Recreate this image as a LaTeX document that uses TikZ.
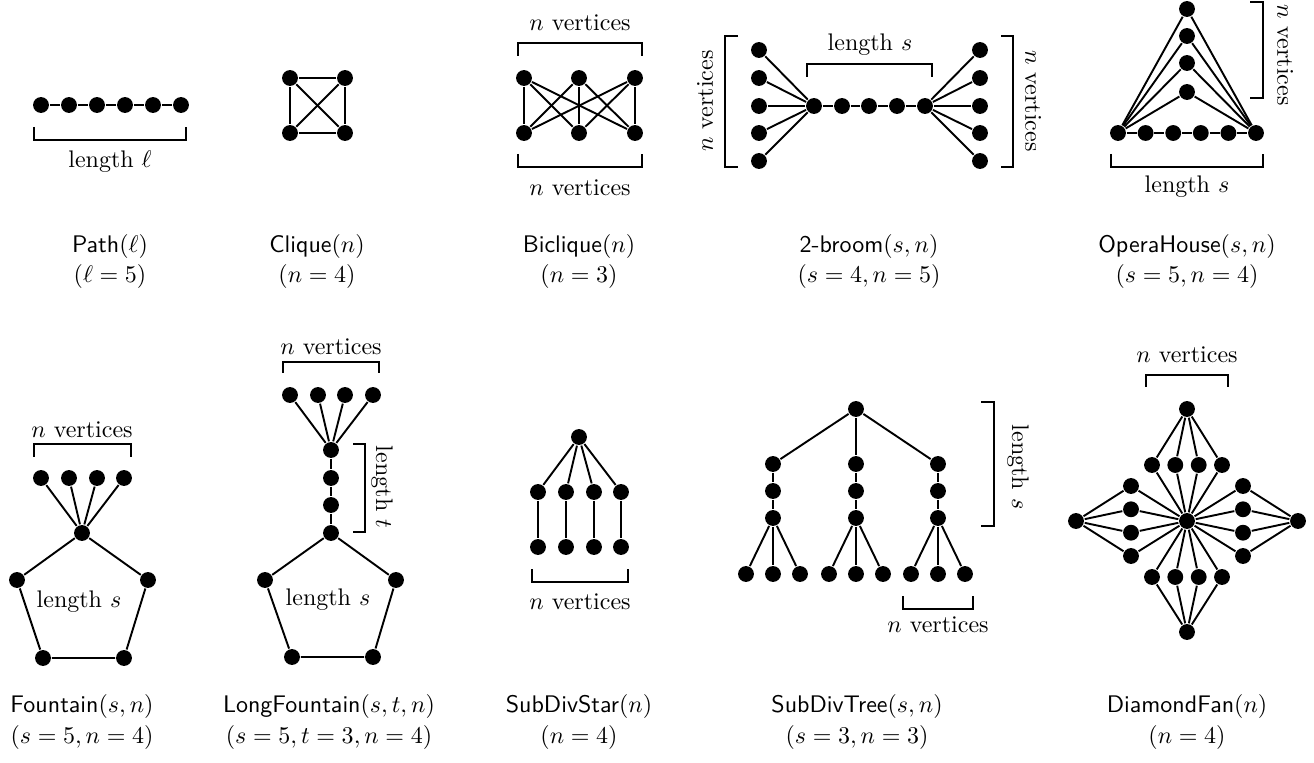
\documentclass[tikz,border=0pt]{standalone}
\usepackage{fontspec}
\begin{document}
\begin{tikzpicture}[x=0.41667pt,y=-0.41667pt,line width=0.8pt,
  dot/.style={circle,fill=black,inner sep=0pt,minimum size=6.6pt},
  lbl/.style={inner sep=0pt},
  captxt/.style={inner sep=0pt}]
\useasboundingbox (0,0) rectangle (1314,763);

% ---------- Path ----------
\foreach \i in {0,...,5} \node[dot] (pa\i) at ({41+28*\i},105) {};
\foreach \i/\j in {0/1,1/2,2/3,3/4,4/5} \draw (pa\i) -- (pa\j);
\draw (34,127) -- (34,140) -- (186,140) -- (186,127);
\node[lbl] (pal) at (110,162) {length $\ell$};
\node[captxt] (pac1) at (110,247) {\textsf{Path}$(\ell)$};
\node[captxt] (pac2) at (110,277) {$(\ell=5)$};

% ---------- Clique ----------
\node[dot] (cq1) at (290,78) {};
\node[dot] (cq2) at (345,78) {};
\node[dot] (cq3) at (290,133) {};
\node[dot] (cq4) at (345,133) {};
\foreach \i/\j in {1/2,1/3,1/4,2/3,2/4,3/4} \draw (cq\i) -- (cq\j);
\node[captxt] (cqc1) at (317,247) {\textsf{Clique}$(n)$};
\node[captxt] (cqc2) at (317,277) {$(n=4)$};

% ---------- Biclique ----------
\foreach \i/\x in {1/524,2/579,3/635} {
  \node[dot] (bt\i) at (\x,78) {};
  \node[dot] (bb\i) at (\x,133) {};
}
\foreach \i in {1,2,3} \foreach \j in {1,2,3} \draw (bt\i) -- (bb\j);
\draw (518,56) -- (518,43) -- (642,43) -- (642,56);
\node[lbl] (btl) at (580,23) {$n$ vertices};
\draw (518,154) -- (518,167) -- (642,167) -- (642,154);
\node[lbl] (bbl) at (580,188) {$n$ vertices};
\node[captxt] (bqc1) at (579,247) {\textsf{Biclique}$(n)$};
\node[captxt] (bqc2) at (579,277) {$(n=3)$};

% ---------- 2-broom ----------
\foreach \i/\y in {1/50,2/78,3/106,4/133,5/161} {
  \node[dot] (bl\i) at (759,\y) {};
  \node[dot] (br\i) at (980,\y) {};
}
\foreach \i/\x in {1/814,2/842,3/869,4/897,5/925} \node[dot] (bs\i) at (\x,106) {};
\foreach \i in {1,...,5} {\draw (bl\i) -- (bs1); \draw (bs5) -- (br\i);}
\foreach \i/\j in {1/2,2/3,3/4,4/5} \draw (bs\i) -- (bs\j);
\draw (807,77) -- (807,64) -- (932,64) -- (932,77);
\node[lbl] (bsl) at (870,45) {length $s$};
\draw (738,36) -- (725,36) -- (725,167) -- (738,167);
\node[lbl,rotate=90] (bll) at (705,101) {$n$ vertices};
\draw (1001,36) -- (1013,36) -- (1013,167) -- (1001,167);
\node[lbl,rotate=-90] (brl) at (1033,101) {$n$ vertices};
\node[captxt] (brc1) at (869,247) {\textsf{2-broom}$(s,n)$};
\node[captxt] (brc2) at (869,277) {$(s=4,n=5)$};

% ---------- OperaHouse ----------
\foreach \i in {0,...,5} \node[dot] (ob\i) at ({1118+27.6*\i},133) {};
\foreach \i/\y in {1/9,2/36,3/63,4/92} \node[dot] (os\i) at (1187,\y) {};
\foreach \i/\j in {0/1,1/2,2/3,3/4,4/5} \draw (ob\i) -- (ob\j);
\foreach \i in {1,...,4} {\draw (os\i) -- (ob0); \draw (os\i) -- (ob5);}
\draw (1250,2) -- (1263,2) -- (1263,98) -- (1250,98);
\node[lbl,rotate=-90] (osl) at (1285,55) {$n$ vertices};
\draw (1111,154) -- (1111,167) -- (1263,167) -- (1263,154);
\node[lbl] (obl) at (1187,187) {length $s$};
\node[captxt] (ohc1) at (1187,247) {\textsf{OperaHouse}$(s,n)$};
\node[captxt] (ohc2) at (1187,277) {$(s=5,n=4)$};

% ---------- Fountain ----------
\foreach \i/\x in {1/41,2/69,3/97,4/124} \node[dot] (fl\i) at (\x,478) {};
\node[dot] (fh) at (82,533) {};
\node[dot] (fr) at (148,580) {};
\node[dot] (fbr) at (124,658) {};
\node[dot] (fbl) at (43,658) {};
\node[dot] (fL) at (17,580) {};
\foreach \i in {1,...,4} \draw (fl\i) -- (fh);
\draw (fh) -- (fr) -- (fbr) -- (fbl) -- (fL) -- (fh);
\node[lbl] (fsl) at (79,602) {length $s$};
\draw (34,457) -- (34,444) -- (131,444) -- (131,457);
\node[lbl] (fnl) at (82,430) {$n$ vertices};
\node[captxt] (fc1) at (82,706) {\textsf{Fountain}$(s,n)$};
\node[captxt] (fc2) at (82,737) {$(s=5,n=4)$};

% ---------- LongFountain ----------
\foreach \i/\x in {1/290,2/318,3/345,4/373} \node[dot] (lfl\i) at (\x,395) {};
\foreach \i/\y in {1/450,2/478,3/505,4/533} \node[dot] (lp\i) at (331,\y) {};
\node[dot] (lr) at (396,580) {};
\node[dot] (lbr) at (373,657) {};
\node[dot] (lbL) at (292,657) {};
\node[dot] (lL) at (265,580) {};
\foreach \i in {1,...,4} \draw (lfl\i) -- (lp1);
\draw (lp1) -- (lp2) -- (lp3) -- (lp4);
\draw (lp4) -- (lr) -- (lbr) -- (lbL) -- (lL) -- (lp4);
\node[lbl] (lsl) at (328,600) {length $s$};
\draw (283,373) -- (283,362) -- (379,362) -- (379,373);
\node[lbl] (lnl) at (331,347) {$n$ vertices};
\draw (353,444) -- (365,444) -- (365,532) -- (353,532);
\node[lbl,rotate=-90] (ltl) at (382,487) {length $t$};
\node[captxt] (lfc1) at (329,706) {\textsf{LongFountain}$(s,t,n)$};
\node[captxt] (lfc2) at (329,737) {$(s=5,t=3,n=4)$};

% ---------- SubDivStar ----------
\node[dot] (ss0) at (579,437) {};
\foreach \i/\x in {1/538,2/566,3/594,4/621} {
  \node[dot] (sm\i) at (\x,492) {};
  \node[dot] (sb\i) at (\x,547) {};
  \draw (ss0) -- (sm\i);
  \draw (sm\i) -- (sb\i);
}
\draw (532,569) -- (532,582) -- (628,582) -- (628,569);
\node[lbl] (ssl) at (580,602) {$n$ vertices};
\node[captxt] (ssc1) at (579,706) {\textsf{SubDivStar}$(n)$};
\node[captxt] (ssc2) at (579,737) {$(n=4)$};

% ---------- SubDivTree ----------
\node[dot] (tr) at (856,409) {};
\foreach \b/\x in {1/773,2/856,3/938} {
  \node[dot] (t\b a) at (\x,464) {};
  \node[dot] (t\b b) at (\x,491) {};
  \node[dot] (t\b c) at (\x,518) {};
  \draw (tr) -- (t\b a);
  \draw (t\b a) -- (t\b b) -- (t\b c);
  \foreach \k/\d in {1/-27,2/0,3/27} {
    \node[dot] (t\b l\k) at (\x+\d,574) {};
    \draw (t\b c) -- (t\b l\k);
  }
}
\draw (981,402) -- (994,402) -- (994,526) -- (981,526);
\node[lbl,rotate=-90] (tsl) at (1018,467) {length $s$};
\draw (903,596) -- (903,609) -- (973,609) -- (973,596);
\node[lbl] (tnl) at (938,625) {$n$ vertices};
\node[captxt] (tc1) at (857,706) {\textsf{SubDivTree}$(s,n)$};
\node[captxt] (tc2) at (857,737) {$(s=3,n=3)$};

% ---------- DiamondFan ----------
\node[dot] (dc) at (1187,521) {};
\node[dot] (dt) at (1187,409) {};
\node[dot] (db) at (1187,632) {};
\node[dot] (dl) at (1076,521) {};
\node[dot] (dr) at (1298,521) {};
\foreach \i/\o in {1/-35,2/-11.7,3/11.7,4/35} {
  \node[dot] (dtg\i) at (1187+\o,465) {};
  \node[dot] (dbg\i) at (1187+\o,577) {};
  \node[dot] (dlg\i) at (1131,521+\o) {};
  \node[dot] (drg\i) at (1243,521+\o) {};
  \draw (dt) -- (dtg\i) -- (dc);
  \draw (db) -- (dbg\i) -- (dc);
  \draw (dl) -- (dlg\i) -- (dc);
  \draw (dr) -- (drg\i) -- (dc);
}
\draw (1146,387) -- (1146,375) -- (1228,375) -- (1228,387);
\node[lbl] (dnl) at (1187,355) {$n$ vertices};
\node[captxt] (dfc1) at (1187,706) {\textsf{DiamondFan}$(n)$};
\node[captxt] (dfc2) at (1187,737) {$(n=4)$};
\end{tikzpicture}
\end{document}
